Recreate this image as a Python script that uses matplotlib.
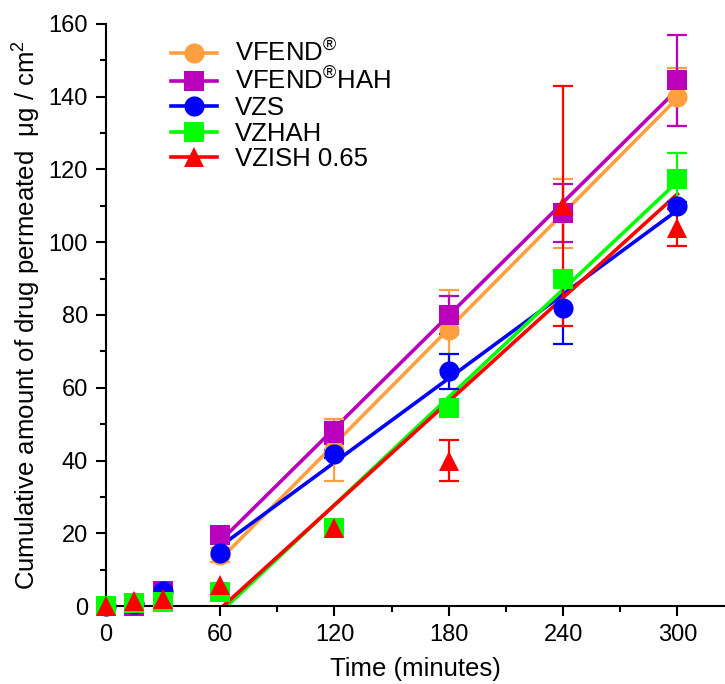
import numpy as np
import matplotlib
matplotlib.use('Agg')
import matplotlib.pyplot as plt
from matplotlib.ticker import MultipleLocator

plt.rcParams['font.family'] = ['Liberation Sans', 'DejaVu Sans']
plt.rcParams['mathtext.fontset'] = 'custom'
plt.rcParams['mathtext.rm'] = 'Liberation Sans'
plt.rcParams['mathtext.it'] = 'Liberation Sans'

# 时间点 (分钟)
time = [0, 15, 30, 60, 120, 180, 240, 300]

# 各制剂的累计渗透量 和 误差
vfend = [0, 1, 3, 14, 43, 76, 108, 140]
vfend_err = [0, 0, 0, 2, 8.5, 11, 9.5, 8]
vfend_hah = [0, 0, 4, 19.5, 47.5, 80, 108, 144.5]
vfend_hah_err = [0, 0, 0, 0, 3, 5.3, 8, 12.5]
vzs = [0, 0.5, 4, 14.6, 41.8, 64.5, 82, 110]
vzs_err = [0, 0, 0, 0, 1, 4.8, 10, 1]
vzhah = [0, 0.8, 1, 3.8, 21.4, 54.4, 90, 117.5]
vzhah_err = [0, 0, 0, 0, 0, 2, 1, 7]
vzish = [0, 1.5, 1.8, 5.8, 21.4, 40, 110, 104]
vzish_err = [0, 0, 0, 0, 0, 5.6, 33, 5]

series = [
    ('VFEND$^{®}$', vfend, vfend_err, '#FFA040', 'o'),
    ('VFEND$^{®}$HAH', vfend_hah, vfend_hah_err, '#BB00BB', 's'),
    ('VZS', vzs, vzs_err, '#0000FF', 'o'),
    ('VZHAH', vzhah, vzhah_err, '#00FF00', 's'),
    ('VZISH 0.65', vzish, vzish_err, '#FF0000', '^'),
]

fig = plt.figure(figsize=(7.25, 6.84), dpi=100)
ax = fig.add_axes([0.146, 0.114, 0.854, 0.851])

t = np.array(time)
handles = []
for i, (name, y, err, color, mk) in enumerate(series):
    y = np.array(y)
    err = np.array(err, dtype=float)
    # 60-300 分钟线性拟合
    m = t >= 60
    k, b = np.polyfit(t[m], y[m], 1)
    xs = np.array([60, 300])
    ax.plot(xs, k * xs + b, color=color, lw=2.6, zorder=2 + i * 0.1)
    # 只画有误差的点
    e = err > 0
    ax.errorbar(t[e], y[e], yerr=err[e], fmt='none', ecolor=color, elinewidth=1.6,
                capsize=7, capthick=1.6, zorder=3 + i * 0.1, clip_on=False)
    ms = 14.5
    ax.plot(t, y, linestyle='none', marker=mk, ms=ms, color=color,
            markeredgewidth=0, zorder=4 + i * 0.1, clip_on=False)
    h, = ax.plot([], [], color=color, lw=2.6, marker=mk, ms=ms, markeredgewidth=0)
    handles.append((h, name))

ax.set_xlim(0, 325)
ax.set_ylim(0, 160)
ax.xaxis.set_major_locator(MultipleLocator(60))
ax.xaxis.set_minor_locator(MultipleLocator(30))
ax.yaxis.set_major_locator(MultipleLocator(20))
ax.yaxis.set_minor_locator(MultipleLocator(10))
ax.spines['top'].set_visible(False)
ax.spines['right'].set_visible(False)
for s in ['left', 'bottom']:
    ax.spines[s].set_linewidth(1.5)
ax.tick_params(which='major', length=7, width=1.5, labelsize=17, pad=6)
ax.tick_params(which='minor', length=4, width=1.5)

ax.set_xlabel('Time (minutes)', fontsize=18.5, labelpad=8)
ax.set_ylabel('Cumulative amount of drug permeated  μg / cm$^2$', fontsize=18.5, labelpad=4)

ax.legend([h for h, _ in handles], [n for _, n in handles], loc='upper left',
          bbox_to_anchor=(0.08, 1.0), frameon=False, fontsize=18.5,
          handlelength=1.8, handletextpad=0.7, labelspacing=0.05, borderaxespad=0.2)

fig.savefig('out.png', dpi=100)
